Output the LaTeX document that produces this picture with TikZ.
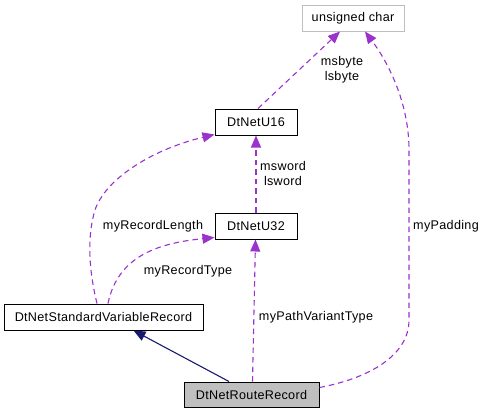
\documentclass[tikz,border=0pt]{standalone}
\usepackage{fontspec}
\setmainfont{Liberation Sans}[LetterSpace=2.5]
\usetikzlibrary{arrows.meta}
\definecolor{dep}{HTML}{9A32CD}
\definecolor{inh}{HTML}{191970}
\definecolor{boxgray}{HTML}{BFBFBF}
\begin{document}
\begin{tikzpicture}[x=1pt,y=-1pt,
  every node/.style={font=\fontsize{12.6}{15}\selectfont},
  cls/.style={draw=black,line width=1pt,inner sep=0pt,minimum height=26pt,fill=white},
  lbl/.style={inner sep=0pt,align=center},
  depedge/.style={draw=dep,line width=1.1pt,dash pattern=on 5.5pt off 4pt,
     -{Triangle[length=12pt,width=10pt,fill=dep,sep=0pt]}},
  inhedge/.style={draw=inh,line width=1.1pt,
     -{Triangle[length=12pt,width=10pt,fill=inh]}}]
\useasboundingbox (0,0) rectangle (484,413);
\node[cls,draw=boxgray,minimum width=102pt] (uc) at (353,18) {unsigned char};
\node[cls,minimum width=82pt] (u16) at (256,122) {DtNetU16};
\node[cls,minimum width=82pt] (u32) at (256,226) {DtNetU32};
\node[cls,minimum width=199pt] (svr) at (103.5,317) {DtNetStandardVariableRecord};
\node[cls,fill=boxgray,minimum width=135pt,minimum height=25pt] (rr) at (251.5,394.5) {DtNetRouteRecord};
% edges
\draw[depedge] ([xshift=2pt]u16.north) -- ([xshift=-13pt]uc.south);
\draw[depedge] ([yshift=7pt]rr.east) .. controls (370,378) and (409,355) .. (409,320)
   -- (409,150) .. controls (409,105) and (390,65) .. ([xshift=12pt]uc.south);
\draw[depedge] (u32.north) -- (u16.south);
\draw[depedge] ([xshift=-6.5pt]svr.north) .. controls (90,275) and (86,240) .. (95,210)
   .. controls (105,180) and (150,150) .. ([yshift=1pt]u16.south west);
\draw[depedge] ([xshift=4.5pt]svr.north) .. controls (118,255) and (160,243) .. ([yshift=2pt]u32.south west);
\draw[depedge] ([xshift=1pt]rr.north) -- ([xshift=-0.5pt]u32.south);
\draw[inhedge] ([xshift=-22.5pt]rr.north) -- ([xshift=30pt]svr.south);
% labels
\node[lbl] (l1) at (342,69.5) {msbyte\\lsbyte};
\node[lbl] (l2) at (283,173) {msword\\lsword};
\node[lbl] (l3) at (446,226) {myPadding};
\node[lbl] (l4) at (153,226) {myRecordLength};
\node[lbl] (l5) at (188,271) {myRecordType};
\node[lbl] (l6) at (316,317) {myPathVariantType};
\end{tikzpicture}
\end{document}
